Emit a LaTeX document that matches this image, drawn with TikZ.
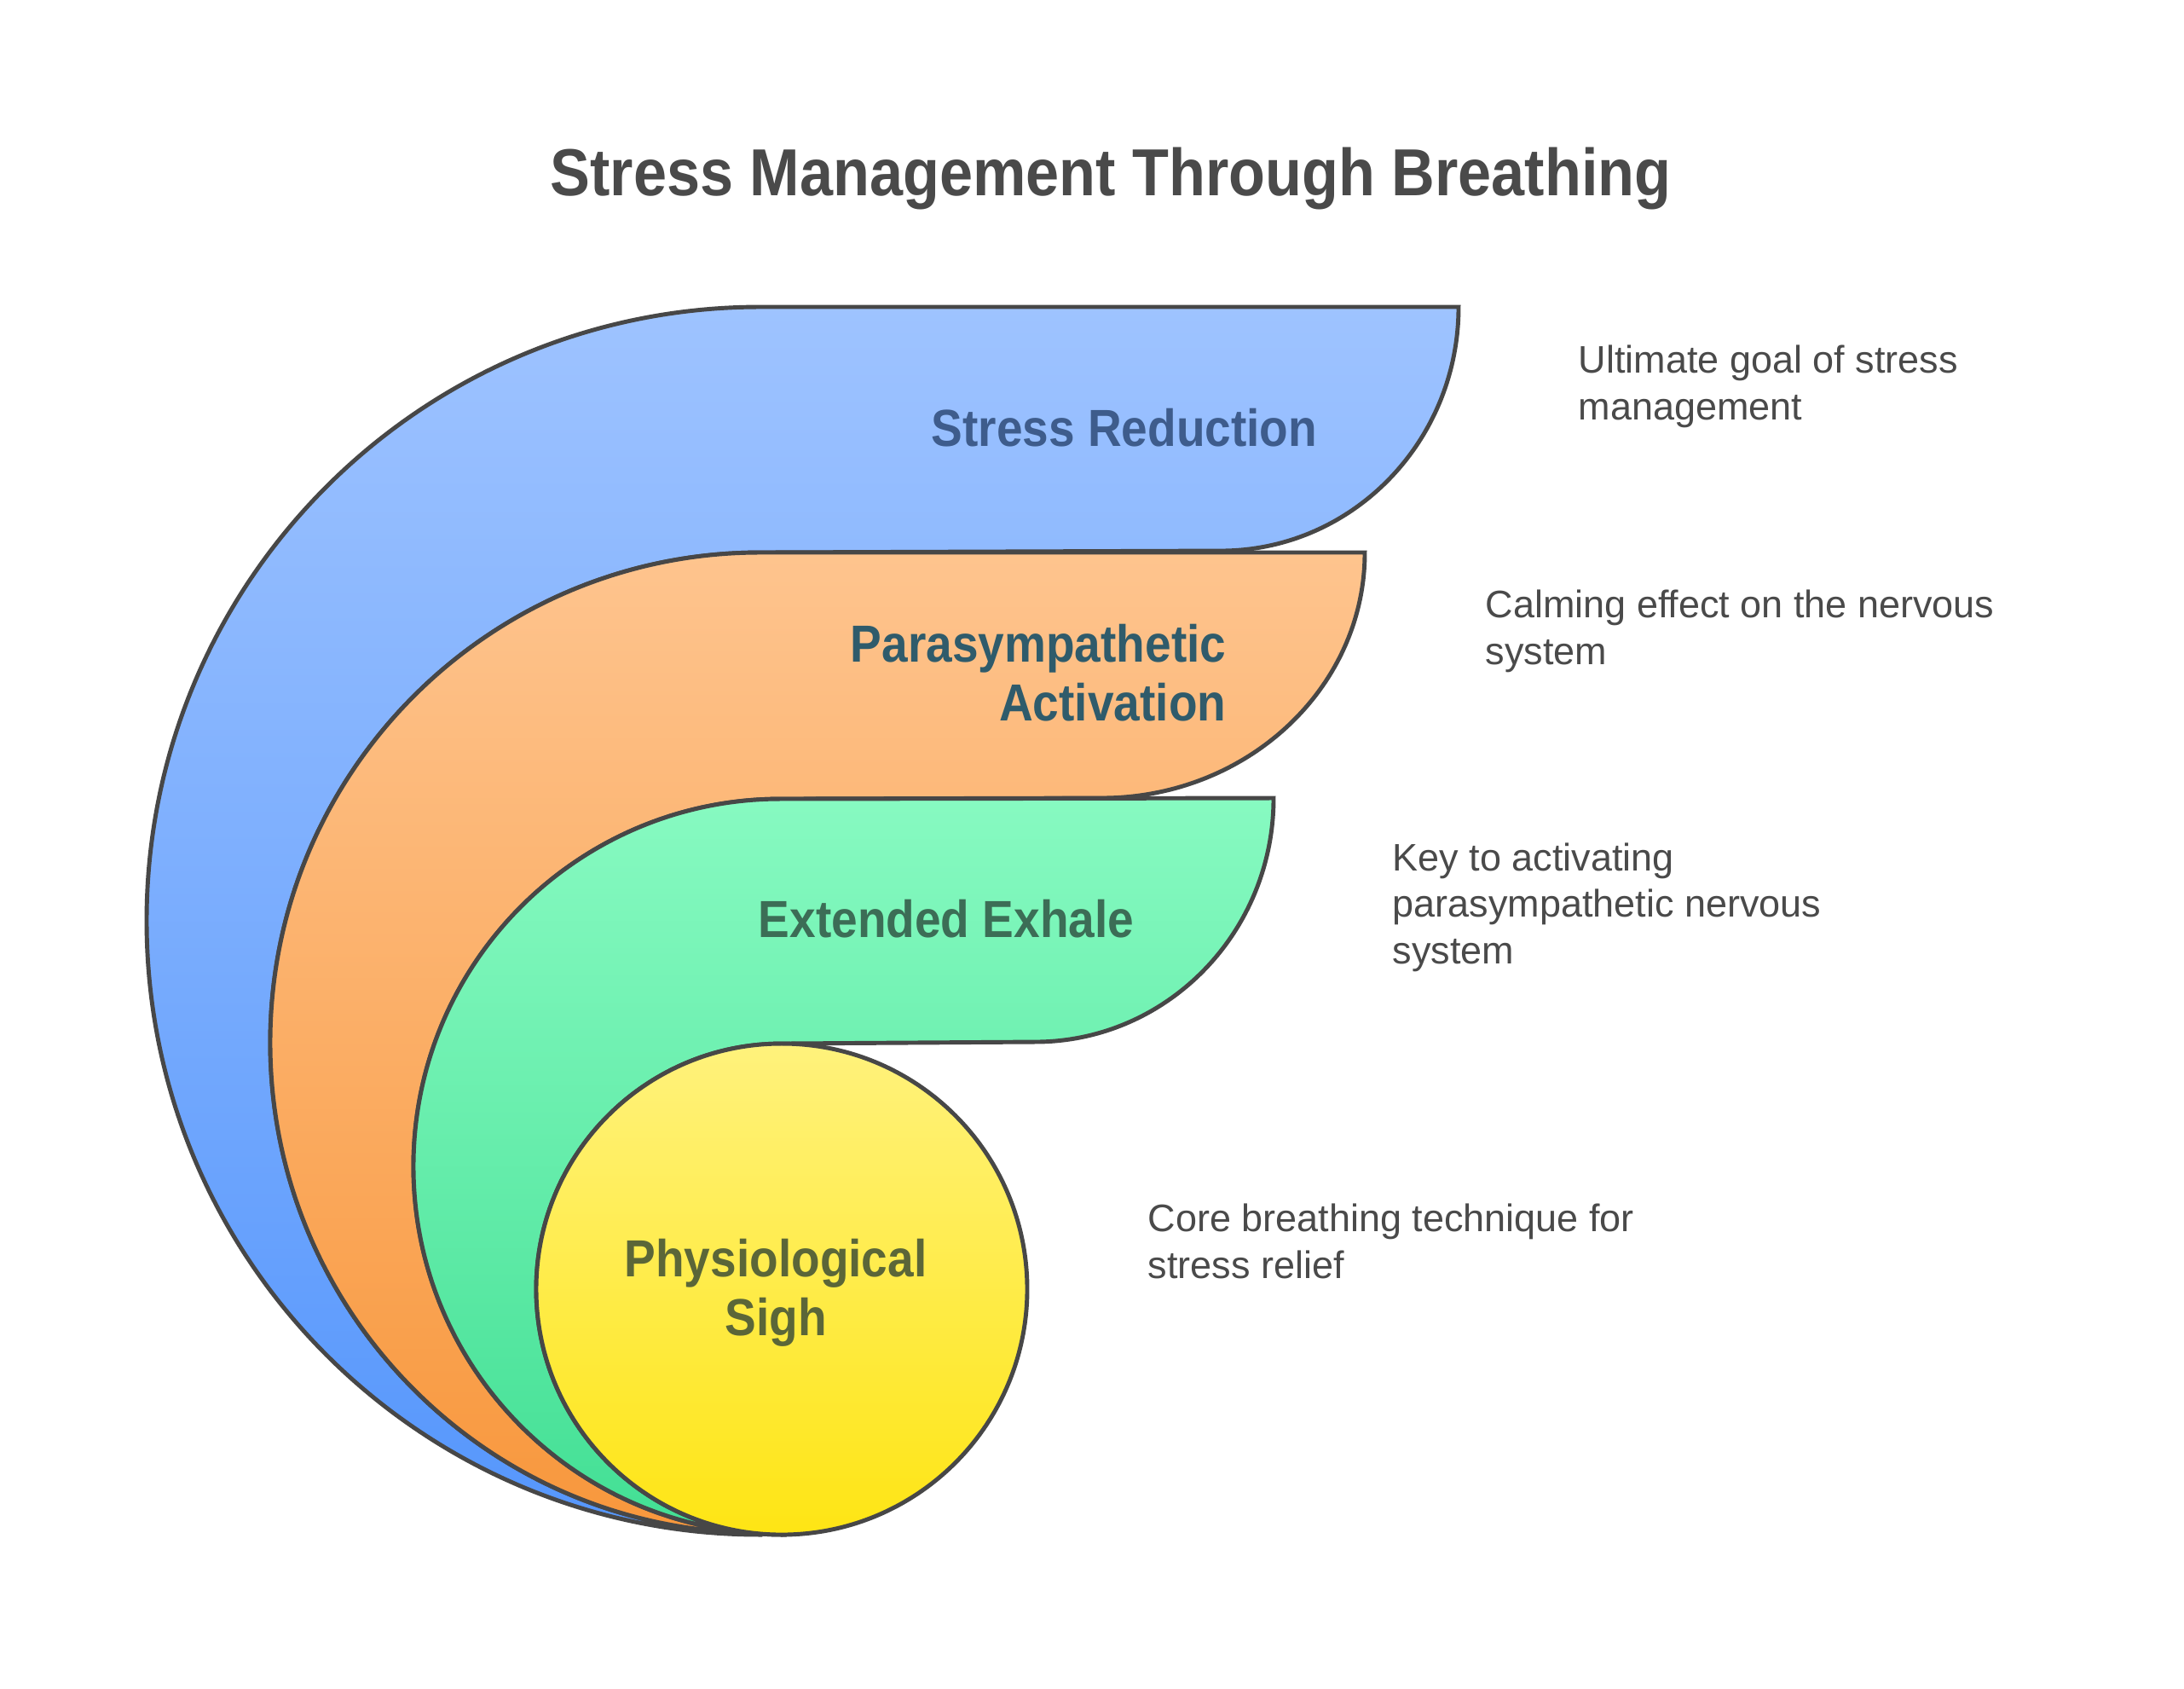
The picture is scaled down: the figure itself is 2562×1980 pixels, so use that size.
\documentclass[tikz,border=0pt]{standalone}
\usepackage{fontspec}
\setmainfont{Liberation Sans}[BoldFeatures={FakeStretch=0.9}]
\definecolor{edge}{HTML}{474747}
\definecolor{ink}{HTML}{4A4A4A}
\definecolor{blueTop}{HTML}{9EC3FF}
\definecolor{blueBot}{HTML}{5596FC}
\definecolor{blueInk}{HTML}{3E5C8C}
\definecolor{orangeTop}{HTML}{FEC48E}
\definecolor{orangeBot}{HTML}{F8973C}
\definecolor{orangeInk}{HTML}{2F5B6B}
\definecolor{greenTop}{HTML}{87FAC1}
\definecolor{greenBot}{HTML}{42DF94}
\definecolor{greenInk}{HTML}{3C6D56}
\definecolor{yellowTop}{HTML}{FFF27C}
\definecolor{yellowBot}{HTML}{FEE514}
\definecolor{yellowInk}{HTML}{5B6638}

\begin{document}
\begin{tikzpicture}[x=0.1mm,y=-0.1mm,
  layer/.style={draw=edge,line width=1.4pt},
  title/.style={font=\bfseries\fontsize{22.2}{26}\selectfont,text=ink,inner sep=0},
  label/.style={font=\bfseries\fontsize{17.4}{19.6}\selectfont,inner sep=0},
  note/.style={font=\fontsize{12.8}{15.4}\selectfont,text=ink,align=left,inner sep=0,anchor=base west}]
\useasboundingbox[fill=white] (0,0) rectangle (2562,1980);
\node[title,anchor=base] (title) at (1303,229) {Stress Management Through Breathing};
\shade[layer,top color=blueTop,bottom color=blueBot] (892,1800) arc[start angle=90,end angle=270,radius=720]
  -- (1711,360) arc[start angle=0,end angle=90,x radius=279,y radius=286]
  -- (892,648) arc[start angle=270,end angle=90,radius=575] -- cycle;
\shade[layer,top color=orangeTop,bottom color=orangeBot] (892,1798) arc[start angle=90,end angle=270,radius=575]
  -- (1601,648) arc[start angle=0,end angle=90,x radius=309,y radius=288]
  -- (916,937) arc[start angle=270,end angle=90,radius=431] -- cycle;
\shade[layer,top color=greenTop,bottom color=greenBot] (916,1799) arc[start angle=90,end angle=270,radius=431]
  -- (1494,936) arc[start angle=0,end angle=90,x radius=280,y radius=286]
  -- (917,1224) arc[start angle=270,end angle=90,radius=288] -- cycle;
\shade[layer,top color=yellowTop,bottom color=yellowBot] (917,1512) circle[radius=288];
\node[label,text=blueInk,anchor=base east] (reduction) at (1546,523) {Stress Reduction};
\node[label,text=orangeInk,align=right,anchor=base east] (activation) at (1439,845) {Parasympathetic\\Activation};
\node[label,text=greenInk,anchor=base] (exhale) at (1110,1099) {Extended Exhale};
\node[label,text=yellowInk,align=center,anchor=base] (sigh) at (910,1566) {Physiological\\Sigh};
\node[note] (goal) at (1851,492) {Ultimate goal of stress\\management};
\node[note] (calming) at (1742,779) {Calming effect on the nervous\\system};
\node[note] (key) at (1633,1130) {Key to activating\\parasympathetic nervous\\system};
\node[note] (core) at (1346,1499) {Core breathing technique for\\stress relief};
\end{tikzpicture}
\end{document}
